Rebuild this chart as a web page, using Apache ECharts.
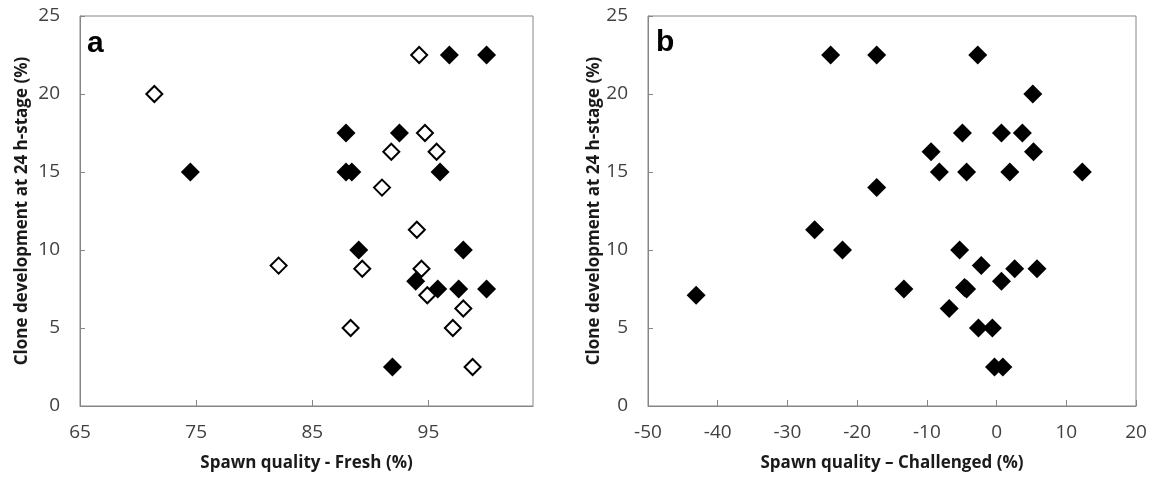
<!DOCTYPE html>
<html>
<head>
<meta charset="utf-8">
<script src="https://cdn.jsdelivr.net/npm/echarts@6/dist/echarts.min.js"></script>
<style>
  html, body { margin: 0; padding: 0; background: #fff; }
  #chart { width: 1163px; height: 478px; }
</style>
</head>
<body>
<div id="chart"></div>
<script>
// panel a: spawn quality (fresh) vs clone development
const freshFilled = [
  [74.5, 15], [96.8, 22.5], [100, 22.5], [87.9, 17.5], [92.5, 17.5],
  [87.9, 15], [88.4, 15], [96, 15], [89, 10], [98, 10],
  [93.9, 8], [95.8, 7.5], [97.6, 7.5], [100, 7.5], [91.9, 2.5]
]
const freshOpen = [
  [71.4, 20], [82.1, 9], [94.2, 22.5], [94.7, 17.5], [91.8, 16.3],
  [95.7, 16.3], [91, 14], [94, 11.3], [89.3, 8.8], [94.4, 8.8],
  [94.9, 7.1], [98, 6.25], [88.3, 5], [97.1, 5], [98.8, 2.5]
]
// panel b: spawn quality (challenged) vs clone development
const challenged = [
  [-23.8, 22.5], [-26.1, 11.3], [-22.1, 10], [-43.1, 7.1], [-17.2, 22.5],
  [-2.7, 22.5], [5.2, 20], [-4.9, 17.5], [0.7, 17.5], [3.7, 17.5],
  [-9.4, 16.3], [5.3, 16.3], [-8.2, 15], [-4.3, 15], [1.9, 15],
  [12.3, 15], [-17.2, 14], [-5.3, 10], [-2.2, 9], [2.6, 8.8],
  [5.8, 8.8], [0.7, 8], [-13.3, 7.5], [-4.6, 7.6], [-4.3, 7.5],
  [-6.8, 6.25], [-2.6, 5], [-0.6, 5], [-0.3, 2.5], [0.9, 2.5]
]
const xTicksA = [65, 75, 85, 95]
const xTicksB = [-50, -40, -30, -20, -10, 0, 10, 20]
const yTicks = [0, 5, 10, 15, 20, 25]

const yTitle = 'Clone development at 24 h-stage (%)'
const axisGray = '#868686'
const labelFont = { color: '#404040', fontSize: 19, fontFamily: 'Open Sans' }
const titleFont = { color: '#1a1a1a', fontSize: 17, fontWeight: 'bold', fontFamily: 'Open Sans' }

const chart = echarts.init(document.getElementById('chart'), null, { renderer: 'canvas' })

const xAxisBase = (idx, min, max, ticks, name) => ({
  type: 'value',
  gridIndex: idx,
  min: min,
  max: max,
  name: name,
  nameLocation: 'middle',
  nameGap: 49,
  nameTextStyle: titleFont,
  axisLine: { show: true, onZero: false, lineStyle: { color: axisGray, width: 1 } },
  axisTick: { show: true, inside: true, length: 6, customValues: ticks, lineStyle: { color: axisGray } },
  axisLabel: Object.assign({ margin: 17, customValues: ticks }, labelFont),
  splitLine: { show: false }
})

const yAxisBase = (idx, gap) => ({
  type: 'value',
  gridIndex: idx,
  min: 0,
  max: 25,
  name: yTitle,
  nameLocation: 'middle',
  nameGap: gap,
  nameRotate: 90,
  nameTextStyle: titleFont,
  axisLine: { show: true, onZero: false, lineStyle: { color: axisGray, width: 1 } },
  axisTick: { show: true, inside: true, length: 5, customValues: yTicks, lineStyle: { color: axisGray } },
  axisLabel: Object.assign({ margin: 20, customValues: yTicks }, labelFont),
  splitLine: { show: false }
})

const option = {
  backgroundColor: '#fff',
  animation: false,
  grid: [
    { left: 80, top: 16, width: 453, height: 390, show: true, borderColor: axisGray, borderWidth: 1, containLabel: false, outerBoundsMode: 'none' },
    { left: 648, top: 16, width: 488, height: 390, show: true, borderColor: axisGray, borderWidth: 1, containLabel: false, outerBoundsMode: 'none' }
  ],
  xAxis: [
    xAxisBase(0, 65, 104, xTicksA, 'Spawn quality - Fresh (%)'),
    xAxisBase(1, -50, 20, xTicksB, 'Spawn quality \u2013 Challenged (%)')
  ],
  yAxis: [
    yAxisBase(0, 49),
    yAxisBase(1, 45)
  ],
  series: [
    {
      type: 'scatter', xAxisIndex: 0, yAxisIndex: 0,
      data: freshFilled, symbol: 'diamond', symbolSize: 19,
      itemStyle: { color: '#000', opacity: 1 }
    },
    {
      type: 'scatter', xAxisIndex: 0, yAxisIndex: 0,
      data: freshOpen, symbol: 'diamond', symbolSize: 16,
      itemStyle: { color: '#fff', borderColor: '#000', borderWidth: 2, opacity: 1 }
    },
    {
      type: 'scatter', xAxisIndex: 1, yAxisIndex: 1,
      data: challenged, symbol: 'diamond', symbolSize: 19,
      itemStyle: { color: '#000', opacity: 1 }
    }
  ],
  graphic: [
    { type: 'text', x: 87, y: 44, style: { text: 'a', font: 'bold 30px "Liberation Sans"', fill: '#000', verticalAlign: 'middle' } },
    { type: 'text', x: 656, y: 43, style: { text: 'b', font: 'bold 30px "Liberation Sans"', fill: '#000', verticalAlign: 'middle' } }
  ]
}

chart.setOption(option)
</script>
</body>
</html>
